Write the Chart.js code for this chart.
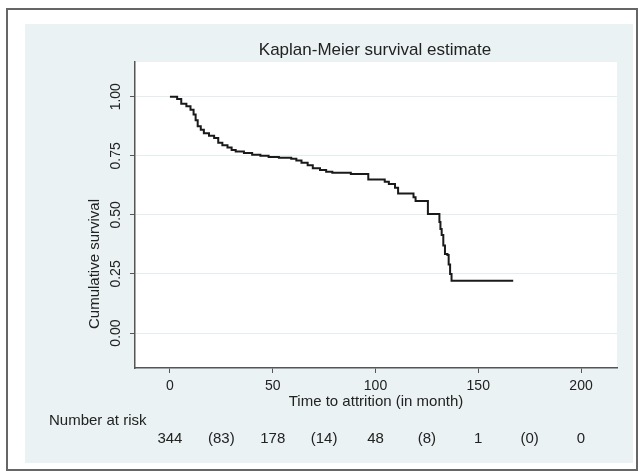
<!DOCTYPE html>
<html>
<head>
<meta charset="utf-8">
<script src="https://cdn.jsdelivr.net/npm/chart.js@4.4.1/dist/chart.umd.min.js"></script>
<style>
body { margin: 0; background: #fff; }
canvas { display: block; }
</style>
</head>
<body>
<canvas id="kmChart" width="644" height="476"></canvas>
<script>
// Kaplan-Meier steps: month of each drop and survival after it
var times = [0, 3.5, 5.5, 8, 10, 11.5, 12.5, 13.5, 15, 16.5, 19, 21.5, 23.5, 25.5, 28, 30, 32, 36, 40, 44, 48, 53, 59, 61.5, 64, 67, 69.5, 73, 76, 79, 88, 96.5, 104.5, 106.5, 109.5, 111, 118.5, 119.5, 125.5, 131.1, 131.6, 132.2, 133, 133.8, 135, 135.6, 136.3, 137, 167];
var survival = [1, 0.99, 0.97, 0.96, 0.945, 0.925, 0.9, 0.875, 0.86, 0.845, 0.835, 0.825, 0.805, 0.795, 0.785, 0.775, 0.768, 0.762, 0.755, 0.75, 0.745, 0.742, 0.738, 0.73, 0.721, 0.71, 0.697, 0.69, 0.683, 0.678, 0.673, 0.65, 0.64, 0.631, 0.615, 0.591, 0.575, 0.559, 0.504, 0.47, 0.44, 0.415, 0.37, 0.334, 0.33, 0.29, 0.25, 0.221, 0.221];

var xTicks = [0, 50, 100, 150, 200];
var yTicks = [0, 0.25, 0.5, 0.75, 1];

// number at risk, with censored counts in brackets between them
var riskTimes = [0, 25, 50, 75, 100, 125, 150, 175, 200];
var riskLabels = ['344', '(83)', '178', '(14)', '48', '(8)', '1', '(0)', '0'];

var points = times.map(function (t, i) {
    return { x: t, y: survival[i] };
});

Chart.defaults.font.family = '"Liberation Sans", Arial, sans-serif';
Chart.defaults.color = '#222';

var frame = {
    id: 'frame',
    beforeDraw: function (chart) {
        var ctx = chart.ctx;
        var a = chart.chartArea;
        ctx.save();
        ctx.fillStyle = '#fff';
        ctx.fillRect(0, 0, chart.width, chart.height);
        ctx.strokeStyle = '#666';
        ctx.lineWidth = 2;
        ctx.strokeRect(7, 9, 630, 461);
        ctx.fillStyle = '#eaf2f3';
        ctx.fillRect(25, 24, 608, 439);
        ctx.fillStyle = '#fff';
        ctx.fillRect(a.left, a.top, a.right - a.left, a.bottom - a.top);
        ctx.restore();
    },
    afterDraw: function (chart) {
        var ctx = chart.ctx;
        var xs = chart.scales.x;
        ctx.save();
        ctx.fillStyle = '#222';
        ctx.textBaseline = 'middle';

        ctx.textAlign = 'center';
        ctx.font = '17px "Liberation Sans", Arial, sans-serif';
        ctx.fillText('Kaplan-Meier survival estimate', 375, 50);

        ctx.font = '15px "Liberation Sans", Arial, sans-serif';
        ctx.save();
        ctx.translate(95, 264);
        ctx.rotate(-Math.PI / 2);
        ctx.fillText('Cumulative survival', 0, 0);
        ctx.restore();

        ctx.textAlign = 'left';
        ctx.fillText('Number at risk', 49, 421);
        ctx.textAlign = 'center';
        for (var i = 0; i < riskTimes.length; i++) {
            ctx.fillText(riskLabels[i], xs.getPixelForValue(riskTimes[i]), 439);
        }
        ctx.restore();
    }
};

var km = document.getElementById('kmChart').getContext('2d');
var myChart = new Chart(km, {
    type: 'line',
    data: {
        datasets: [{
            data: points,
            borderColor: '#1a1a1a',
            borderWidth: 2,
            pointRadius: 0,
            stepped: true,
            fill: false
        }]
    },
    options: {
        responsive: false,
        animation: false,
        devicePixelRatio: 1,
        layout: { padding: { top: 62, right: 27, bottom: 0, left: 0 } },
        plugins: {
            legend: { display: false },
            tooltip: { enabled: false }
        },
        scales: {
            x: {
                type: 'linear',
                min: -17,
                max: 217.5,
                afterBuildTicks: function (s) {
                    s.ticks = xTicks.map(function (v) { return { value: v }; });
                },
                afterFit: function (s) { s.height = 108; },
                ticks: { maxRotation: 0, padding: 5, font: { size: 14 } },
                grid: { color: 'rgba(0,0,0,0)', tickColor: '#555', tickLength: 5 },
                border: { color: '#555', width: 1.5 },
                title: {
                    display: true,
                    text: 'Time to attrition (in month)',
                    font: { size: 15 },
                    padding: { top: 0, bottom: 65 }
                }
            },
            y: {
                type: 'linear',
                min: -0.148,
                max: 1.147,
                afterBuildTicks: function (s) {
                    s.ticks = yTicks.map(function (v) { return { value: v }; });
                },
                afterFit: function (s) { s.width = 135; },
                ticks: {
                    minRotation: 90,
                    maxRotation: 90,
                    crossAlign: 'center',
                    padding: 0,
                    autoSkip: false,
                    font: { size: 14 },
                    callback: function (v) { return Number(v).toFixed(2); }
                },
                grid: { color: '#e4eef0', tickColor: '#555', tickLength: 5 },
                border: { color: '#555', width: 1.5 }
            }
        }
    },
    plugins: [frame]
});
</script>
</body>
</html>
